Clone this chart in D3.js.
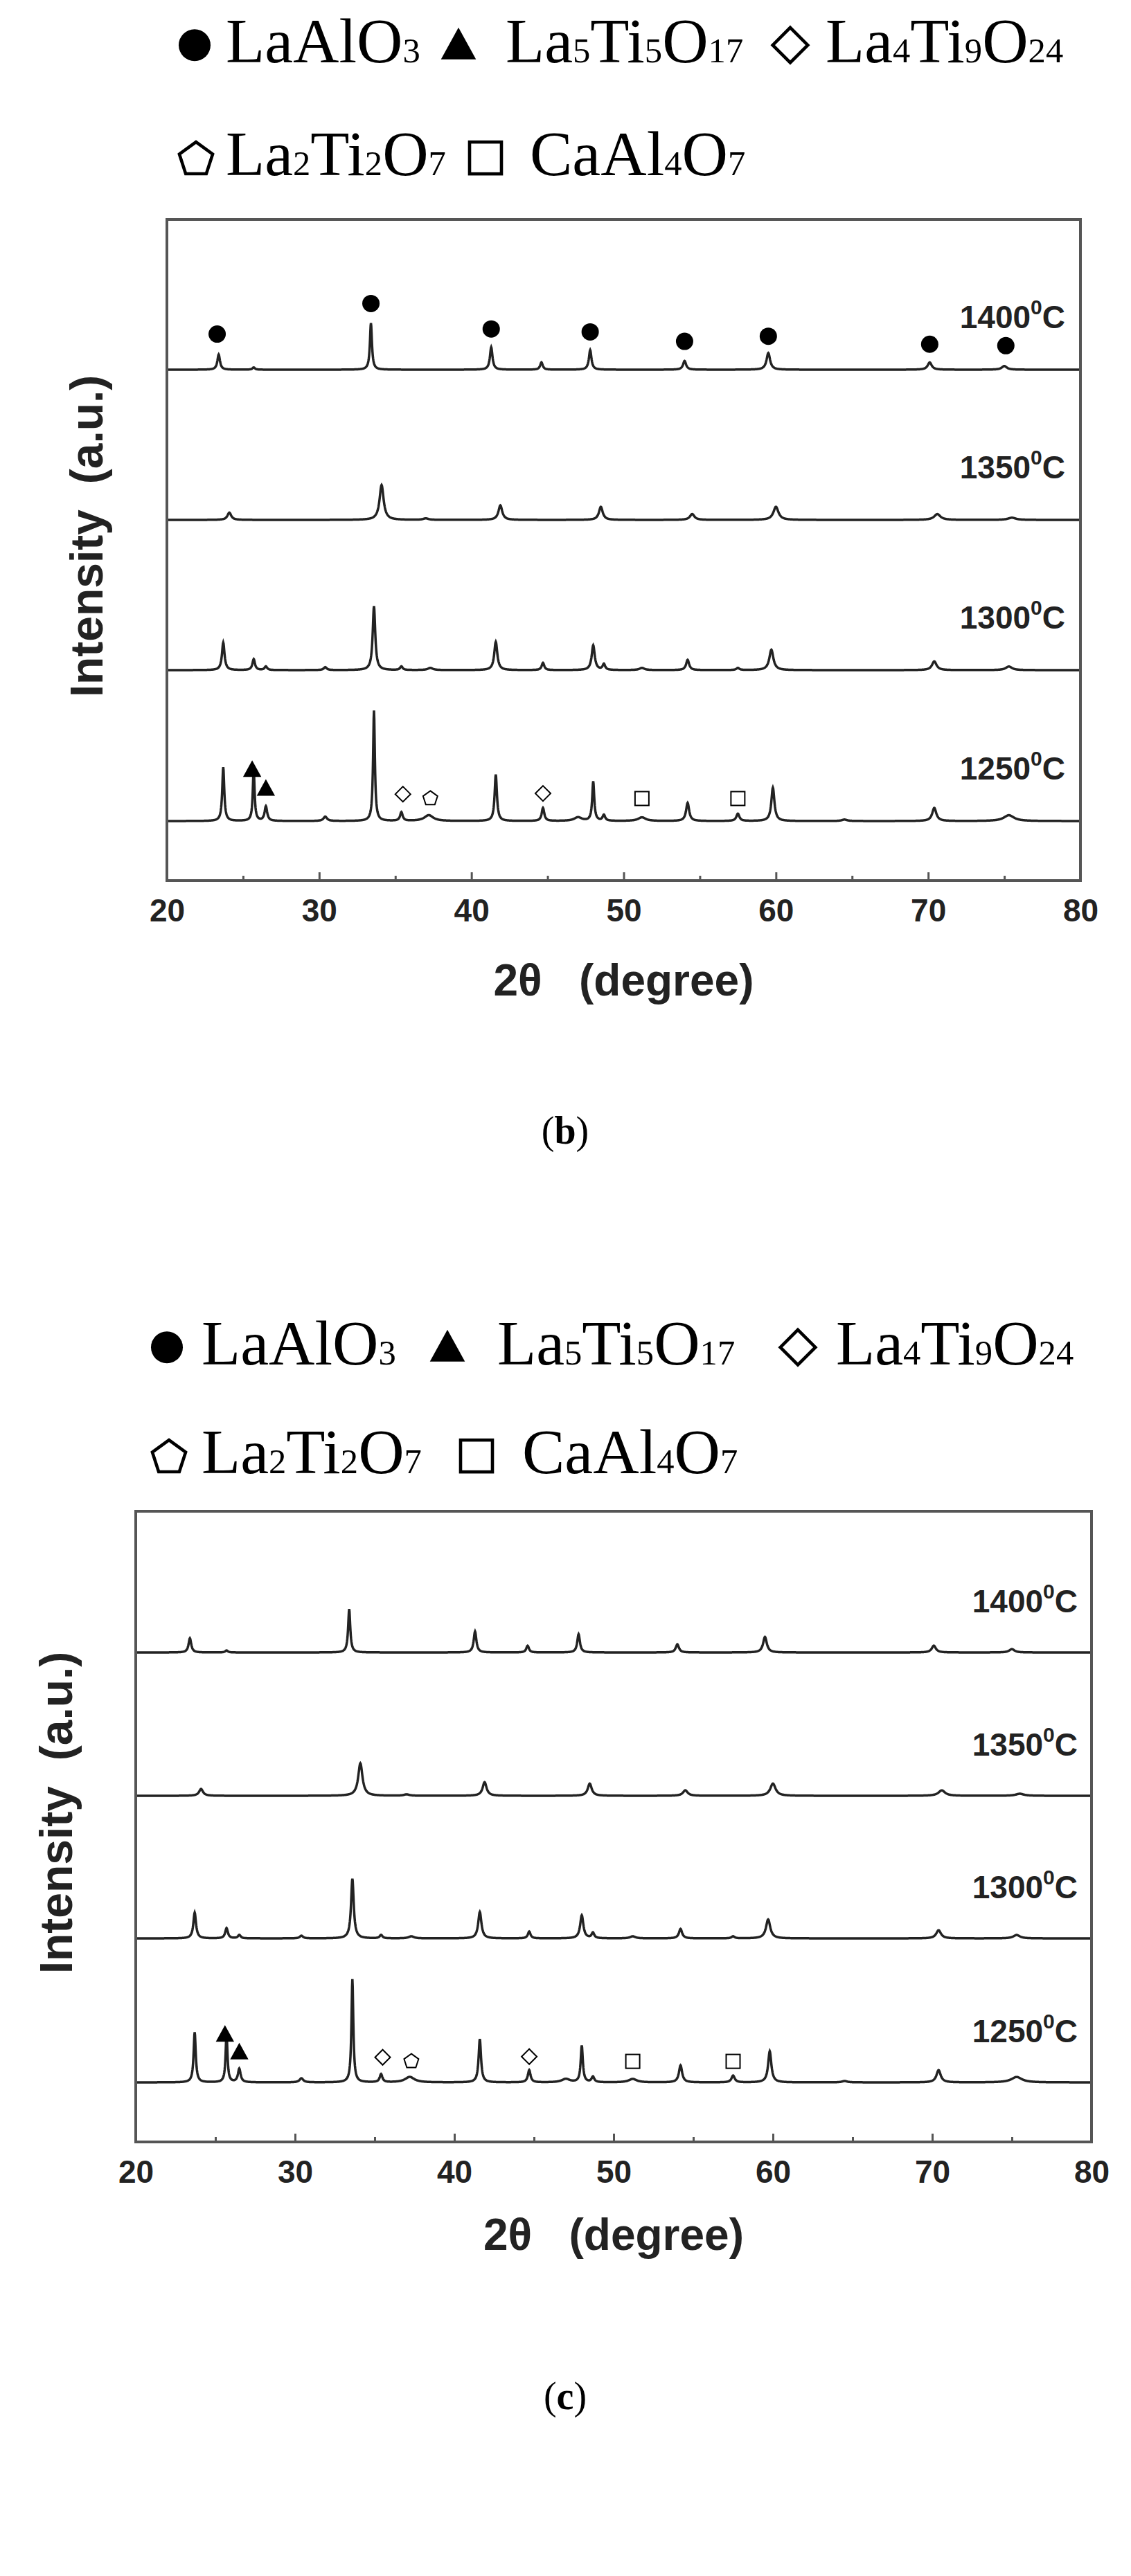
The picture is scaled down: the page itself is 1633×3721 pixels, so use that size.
<!DOCTYPE html>
<html><head><meta charset="utf-8">
<script src="https://cdn.jsdelivr.net/npm/d3@7"></script>
<style>body{margin:0;background:#fff}</style>
</head><body>
<svg id="chart" width="1633" height="3721"></svg>
<script>
// peaks: [2theta, height (px above baseline), half width]
const peaks1400 = [[23.4,21,0.1],[25.7,3,0.1],[33.4,64,0.08],[41.3,31,0.1],[44.6,10,0.1],[47.8,27,0.1],[54.0,12,0.12],[59.5,23,0.14],[70.1,10,0.16],[75.0,5,0.2]];
const peaks1350 = [[24.1,10,0.15],[34.1,48,0.16],[37.0,2,0.2],[41.9,20,0.15],[48.5,18,0.15],[54.5,8,0.18],[60.0,18,0.2],[70.6,8,0.25],[75.5,3,0.3]];
const peaks1300 = [[23.7,38,0.1],[25.7,15,0.1],[26.5,5,0.1],[30.4,4,0.12],[33.6,88,0.1],[35.4,5,0.1],[37.3,3,0.2],[41.6,39,0.12],[44.7,10,0.1],[48.0,34,0.12],[48.7,8,0.1],[51.2,3,0.2],[54.2,14,0.12],[57.5,3,0.12],[59.7,28,0.16],[70.4,12,0.18],[75.3,5,0.25]];
const peaks1250 = [[23.7,74,0.08],[25.7,72,0.07],[26.5,20,0.1],[30.4,6,0.14],[33.6,152,0.07],[35.4,12,0.1],[37.2,8,0.35],[41.6,64,0.09],[44.7,18,0.1],[47.0,5,0.3],[48.0,54,0.08],[48.7,8,0.1],[51.2,5,0.3],[54.2,25,0.12],[57.5,10,0.12],[59.8,46,0.12],[64.5,2,0.2],[70.4,18,0.16],[75.3,8,0.4]];
const patterns = [peaks1400, peaks1350, peaks1300, peaks1250];
const tempLabels = ["1400", "1350", "1300", "1250"];

// phase markers: [2theta, height above baseline, symbol]
const markers1400 = [[23.3,49],[33.4,91],[41.3,56],[47.8,52],[54.0,39],[59.5,46],[70.1,35],[75.1,33]];
const markers1250 = [[25.6,71,"tri"],[26.5,45,"tri"],[35.5,37,"dia"],[37.3,32,"pent"],[44.7,38,"dia"],[51.2,31,"sq"],[57.5,31,"sq"]];

const legendRow1 = [["circle",[["La",0],["AlO",0],["3",1]]],["tri",[["La",0],["5",1],["Ti",0],["5",1],["O",0],["17",1]]],["dia",[["La",0],["4",1],["Ti",0],["9",1],["O",0],["24",1]]]];
const legendRow2 = [["pent",[["La",0],["2",1],["Ti",0],["2",1],["O",0],["7",1]]],["sq",[["CaAl",0],["4",1],["O",0],["7",1]]]];
const xTicks = [20,30,40,50,60,70,80];

const svg = d3.select("#chart");
const grid = d3.range(20, 80.001, 0.02);

function profile(pk) {
  return grid.map(x => [x, d3.sum(pk, p => p[1] / (1 + ((x - p[0]) / p[2]) ** 2))]);
}

function symbol(g, type, x, y, s, filled) {
  const fill = filled ? "#000" : "#fff";
  const st = {stroke: "#000", "stroke-width": filled ? 0 : Math.max(2, s / 10), fill: fill};
  let el;
  if (type === "circle") el = g.append("circle").attr("cx", x).attr("cy", y).attr("r", s / 2);
  else if (type === "sq") el = g.append("rect").attr("x", x - s / 2).attr("y", y - s / 2).attr("width", s).attr("height", s);
  else {
    let pts;
    if (type === "tri") pts = [[0,-0.55],[0.55,0.45],[-0.55,0.45]];
    else if (type === "dia") pts = [[0,-0.55],[0.55,0],[0,0.55],[-0.55,0]];
    else pts = d3.range(5).map(i => [0.55 * Math.sin(i * 2 * Math.PI / 5), -0.55 * Math.cos(i * 2 * Math.PI / 5) + 0.05]);
    el = g.append("polygon").attr("points", pts.map(p => [x + p[0] * s, y + p[1] * s].join(",")).join(" "));
  }
  Object.entries(st).forEach(([k, v]) => el.attr(k, v));
}

function legend(g, row, x0s, y, fs) {
  row.forEach((item, i) => {
    symbol(g, item[0], x0s[i][0], y - fs * 0.27, fs * 0.5, item[0] === "circle" || item[0] === "tri");
    const t = g.append("text").attr("x", x0s[i][1]).attr("y", y)
      .attr("font-family", "Liberation Serif, serif").attr("font-size", fs);
    item[1].forEach(s => t.append("tspan").attr("font-size", s[1] ? fs * 0.55 : fs).text(s[0]));
  });
}

function panel(cfg) {
  const g = svg.append("g");
  const x = d3.scaleLinear().domain([20, 80]).range([cfg.left, cfg.right]);
  legend(g, legendRow1, cfg.leg1x, cfg.leg1y, 92);
  legend(g, legendRow2, cfg.leg2x, cfg.leg2y, 92);

  patterns.forEach((pk, i) => {
    const y = d3.scaleLinear().domain([0, 100]).range([cfg.base[i], cfg.base[i] - 100 * cfg.k]);
    g.append("path").datum(profile(pk))
      .attr("fill", "none").attr("stroke", "#222").attr("stroke-width", 3.5)
      .attr("d", d3.line().x(d => x(d[0])).y(d => y(d[1])));
    g.append("text").attr("x", cfg.labelX).attr("y", cfg.base[i] - cfg.labelUp)
      .attr("text-anchor", "end").attr("font-family", "Liberation Sans, Arial, sans-serif")
      .attr("font-weight", "bold").attr("font-size", 46).attr("fill", "#222")
      .call(t => {
        t.append("tspan").text(tempLabels[i]);
        t.append("tspan").attr("font-size", 30).attr("dy", -20).text("0");
        t.append("tspan").attr("dy", 20).text("C");
      });
    if (i === 0 && cfg.top) markers1400.forEach(m => symbol(g, "circle", x(m[0]), y(m[1] * 1), 25, true));
    if (i === 3) markers1250.forEach(m => symbol(g, m[2], x(m[0]), y(m[1]), m[2] === "tri" ? 24 : 20, m[2] === "tri"));
  });

  g.append("rect").attr("x", cfg.left).attr("y", cfg.top0).attr("width", cfg.right - cfg.left)
    .attr("height", cfg.bottom - cfg.top0).attr("fill", "none").attr("stroke", "#555").attr("stroke-width", 4);

  const ax = g.append("g").attr("transform", `translate(0,${cfg.bottom})`)
    .call(d3.axisBottom(x).tickValues(xTicks).tickSizeInner(-12).tickSizeOuter(0).tickPadding(26));
  ax.select(".domain").remove();
  ax.selectAll("line").attr("stroke", "#555").attr("stroke-width", 3);
  ax.selectAll("text").attr("font-family", "Liberation Sans, Arial, sans-serif").attr("font-weight", "bold")
    .attr("font-size", 46).attr("fill", "#222");
  const minor = g.append("g").attr("transform", `translate(0,${cfg.bottom})`)
    .call(d3.axisBottom(x).tickValues(d3.range(25, 80, 10)).tickSizeInner(-7).tickSizeOuter(0).tickFormat(""));
  minor.select(".domain").remove();
  minor.selectAll("line").attr("stroke", "#555").attr("stroke-width", 3);

  g.append("text").attr("x", (cfg.left + cfg.right) / 2).attr("y", cfg.xTitleY).attr("text-anchor", "middle")
    .attr("font-family", "Liberation Sans, Arial, sans-serif").attr("font-weight", "bold").attr("font-size", 64)
    .attr("fill", "#222").attr("xml:space", "preserve").text("2θ   (degree)");
  g.append("text").attr("transform", `translate(${cfg.yTitleX},${(cfg.top0 + cfg.bottom) / 2 - 20}) rotate(-90)`)
    .attr("text-anchor", "middle").attr("font-family", "Liberation Sans, Arial, sans-serif").attr("font-weight", "bold")
    .attr("font-size", 66).attr("fill", "#222").attr("xml:space", "preserve").text("Intensity  (a.u.)");
  g.append("text").attr("x", 816).attr("y", cfg.capY).attr("text-anchor", "middle")
    .attr("font-family", "Liberation Serif, serif").attr("font-size", 56)
    .call(t => { t.append("tspan").text("("); t.append("tspan").attr("font-weight", "bold").text(cfg.cap); t.append("tspan").text(")"); });
}

panel({top: true, cap: "b", left: 241, right: 1560, top0: 317, bottom: 1272,
  base: [534, 751, 968, 1186], k: 1.05, labelX: 1538, labelUp: 60,
  leg1y: 90, leg2y: 253, leg1x: [[281,326],[662,730],[1141,1192]], leg2x: [[283,326],[701,765]],
  xTitleY: 1438, yTitleX: 148, capY: 1652});
panel({top: false, cap: "c", left: 196, right: 1576, top0: 2183, bottom: 3094,
  base: [2387, 2594, 2800, 3008], k: 0.98, labelX: 1556, labelUp: 58,
  leg1y: 1971, leg2y: 2128, leg1x: [[241,291],[646,718],[1152,1207]], leg2x: [[244,291],[688,754]],
  xTitleY: 3250, yTitleX: 104, capY: 3480});
</script>
</body></html>
